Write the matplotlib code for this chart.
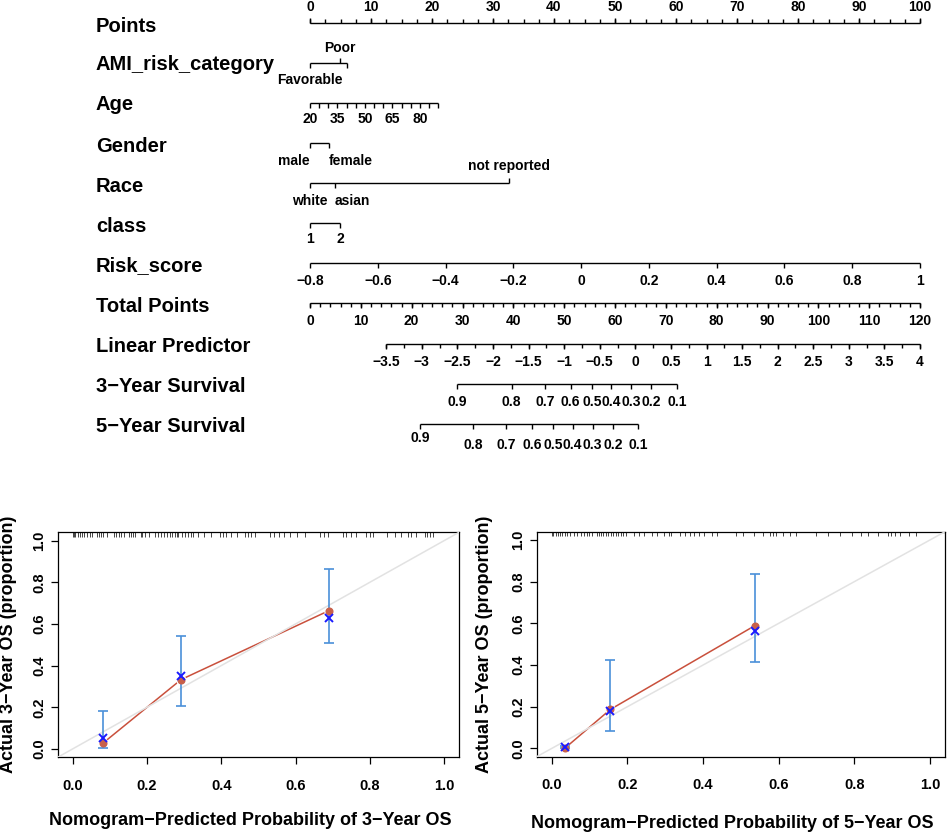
import numpy as np
import matplotlib
matplotlib.use('Agg')
import matplotlib.pyplot as plt

plt.rcParams['font.family'] = ['Liberation Sans', 'DejaVu Sans']
plt.rcParams['font.weight'] = 'bold'

MINUS = '\u2212'

# ---------------- nomogram data ----------------
row_names = ['Points', 'AMI_risk_category', 'Age', 'Gender', 'Race', 'class',
             'Risk_score', 'Total Points', 'Linear Predictor',
             '3' + MINUS + 'Year Survival', '5' + MINUS + 'Year Survival']

points_labels = [0, 10, 20, 30, 40, 50, 60, 70, 80, 90, 100]
points_minor_step = 2.5

ami_levels = ['Favorable', 'Poor', '']
ami_points = [0.0, 4.9, 6.1]
ami_above = [False, True, False]

age_ticks = [20, 25, 30, 35, 40, 45, 50, 55, 60, 65, 70, 75, 80, 85, 90]
age_labels = [20, 35, 50, 65, 80]
age_points_span = (0.0, 21.0)          # points at age 20 and age 90

gender_levels = ['male', 'female']
gender_points = [0.0, 3.1]
gender_ha = ['right', 'left']

race_levels = ['white', 'asian', 'not reported']
race_points = [0.0, 4.1, 32.7]
race_above = [False, False, True]
race_ha = ['center', 'left', 'center']

class_levels = ['1', '2']
class_points = [0.0, 4.9]

risk_ticks = [-0.8, -0.6, -0.4, -0.2, 0.0, 0.2, 0.4, 0.6, 0.8, 1.0]
risk_labels = [MINUS + '0.8', MINUS + '0.6', MINUS + '0.4', MINUS + '0.2',
               '0', '0.2', '0.4', '0.6', '0.8', '1']

total_labels = [0, 10, 20, 30, 40, 50, 60, 70, 80, 90, 100, 110, 120]
total_minor_step = 2

lp_labels = [-3.5, -3, -2.5, -2, -1.5, -1, -0.5, 0, 0.5, 1, 1.5, 2, 2.5, 3, 3.5, 4]
lp_minor_step = 0.25
lp_total_span = (15.0, 120.0)          # total points at LP -3.5 and LP 4

surv_labels = ['0.9', '0.8', '0.7', '0.6', '0.5', '0.4', '0.3', '0.2', '0.1']
surv3_lp = [-2.50, -1.74, -1.27, -0.91, -0.61, -0.34, -0.06, 0.22, 0.59]
surv5_lp = [-3.02, -2.28, -1.82, -1.45, -1.16, -0.88, -0.60, -0.31, 0.04]

# ---------------- calibration data ----------------
cal3_pred = [0.0825, 0.292, 0.690]
cal3_obs = [0.029, 0.333, 0.664]
cal3_corr = [0.053, 0.349, 0.629]
cal3_lo = [0.006, 0.205, 0.509]
cal3_hi = [0.183, 0.544, 0.864]
cal3_rug = [0.002, 0.004, 0.007, 0.014, 0.020, 0.025, 0.032, 0.039, 0.046, 0.052,
            0.066, 0.072, 0.077, 0.083, 0.093, 0.111, 0.118, 0.124, 0.131, 0.138,
            0.151, 0.156, 0.163, 0.169, 0.183, 0.188, 0.196, 0.207, 0.221, 0.230,
            0.237, 0.246, 0.253, 0.261, 0.267, 0.275, 0.282, 0.285, 0.294, 0.302,
            0.311, 0.318, 0.325, 0.337, 0.354, 0.373, 0.396, 0.405, 0.414, 0.427,
            0.443, 0.463, 0.472, 0.481, 0.490, 0.531, 0.542, 0.555, 0.569, 0.584,
            0.605, 0.625, 0.665, 0.677, 0.688, 0.728, 0.737, 0.750, 0.764, 0.791,
            0.800, 0.809, 0.845, 0.867, 0.885, 0.903, 0.912, 0.925, 0.948, 0.955,
            0.961, 0.970]

cal5_pred = [0.034, 0.155, 0.537]
cal5_obs = [0.0, 0.187, 0.589]
cal5_corr = [0.008, 0.180, 0.563]
cal5_lo = [0.0, 0.084, 0.414]
cal5_hi = [0.010, 0.426, 0.835]
cal5_rug = [0.001, 0.004, 0.011, 0.017, 0.022, 0.028, 0.034, 0.041, 0.048, 0.059,
            0.066, 0.077, 0.085, 0.092, 0.099, 0.105, 0.119, 0.125, 0.131, 0.136,
            0.142, 0.149, 0.156, 0.163, 0.169, 0.175, 0.182, 0.189, 0.195, 0.217,
            0.230, 0.244, 0.265, 0.279, 0.296, 0.309, 0.314, 0.340, 0.353, 0.366,
            0.375, 0.389, 0.402, 0.424, 0.437, 0.488, 0.505, 0.535, 0.558, 0.576,
            0.585, 0.593, 0.611, 0.629, 0.646, 0.700, 0.731, 0.762, 0.793, 0.819,
            0.837, 0.863, 0.890, 0.896, 0.907, 0.922, 0.945, 0.964]

# ---------------- figure ----------------
W, H = 948, 835
fig = plt.figure(figsize=(W / 100, H / 100), dpi=100)

# nomogram axes: x in "Points" units, y in pixels from top
NOM_H = 460
axn = fig.add_axes([0, 1 - NOM_H / H, 1, NOM_H / H])
PX_PER_PT = 6.1
X0 = 310
axn.set_xlim(-X0 / PX_PER_PT, (W - X0) / PX_PER_PT)
axn.set_ylim(NOM_H, 0)
axn.axis('off')

row_label_y = [26, 64, 104, 146, 186, 226.5, 266, 306, 346.5, 387, 427]
line_y = [22.7, 63.3, 103.3, 142.7, 182.7, 223.3, 263.3, 303.3, 344.3, 384.3, 424.3]
row_label_x = -(X0 - 96) / PX_PER_PT
TICK = 5.0
TICK_MINOR = 3.5
BELOW = 17.0
ABOVE = 15.5
TFS = 10
LW = 1.0


def tp_to_x(t):
    return np.asarray(t, float) * 100.0 / 120.0


def lp_to_x(v):
    v = np.asarray(v, float)
    lo, hi = lp_labels[0], lp_labels[-1]
    return tp_to_x(lp_total_span[0] + (v - lo) * (lp_total_span[1] - lp_total_span[0]) / (hi - lo))


def risk_to_x(v):
    v = np.asarray(v, float)
    return (v - risk_ticks[0]) * 100.0 / (risk_ticks[-1] - risk_ticks[0])


def age_to_x(a):
    a = np.asarray(a, float)
    return age_points_span[0] + (a - age_ticks[0]) * (age_points_span[1] - age_points_span[0]) / (age_ticks[-1] - age_ticks[0])


def axis_line(y, xs):
    axn.plot([min(xs), max(xs)], [y, y], color='black', lw=LW, solid_capstyle='butt')


def ticks(xs, y, length=TICK, up=False):
    xs = np.atleast_1d(xs)
    y2 = y - length if up else y + length
    axn.vlines(xs, y, y2, color='black', lw=LW)


def labels(xs, texts, y, has=None):
    for i, (x, t) in enumerate(zip(np.atleast_1d(xs), texts)):
        ha = has[i] if has is not None else 'center'
        axn.text(x, y, t, ha=ha, va='center', fontsize=TFS, fontweight='bold')


for name, ly in zip(row_names, row_label_y):
    axn.text(row_label_x, ly, name, ha='left', va='center', fontsize=14.5, fontweight='bold')

# Points
y = line_y[0]
axis_line(y, [0, 100])
ticks(np.arange(0, 100.01, points_minor_step), y, TICK_MINOR, up=True)
ticks(points_labels, y, TICK, up=True)
labels(points_labels, [str(v) for v in points_labels], y - ABOVE)

# AMI risk category
y = line_y[1]
axis_line(y, ami_points)
for p, lev, up in zip(ami_points, ami_levels, ami_above):
    ticks(p, y, TICK, up=up)
    if lev:
        labels([p], [lev], y - ABOVE if up else y + BELOW)

# Age
y = line_y[2]
axis_line(y, age_to_x([age_ticks[0], age_ticks[-1]]))
ticks(age_to_x(age_ticks), y, TICK)
labels(age_to_x(age_labels), [str(a) for a in age_labels], y + BELOW - 1)

# Gender
y = line_y[3]
axis_line(y, gender_points)
ticks(gender_points, y, TICK)
labels(gender_points, gender_levels, y + BELOW + 1, has=gender_ha)

# Race
y = line_y[4]
axis_line(y, race_points)
for p, lev, up, ha in zip(race_points, race_levels, race_above, race_ha):
    ticks(p, y, TICK, up=up)
    labels([p], [lev], y - ABOVE - 1 if up else y + BELOW + 1, has=[ha])

# class
y = line_y[5]
axis_line(y, class_points)
ticks(class_points, y, TICK)
labels(class_points, class_levels, y + BELOW - 1)

# Risk score
y = line_y[6]
axis_line(y, risk_to_x([risk_ticks[0], risk_ticks[-1]]))
ticks(risk_to_x(risk_ticks), y, TICK)
labels(risk_to_x(risk_ticks), risk_labels, y + BELOW + 1)

# Total points
y = line_y[7]
axis_line(y, tp_to_x([total_labels[0], total_labels[-1]]))
ticks(tp_to_x(np.arange(total_labels[0], total_labels[-1] + 0.01, total_minor_step)), y, TICK_MINOR)
ticks(tp_to_x(total_labels), y, TICK)
labels(tp_to_x(total_labels), [str(v) for v in total_labels], y + BELOW + 1)

# Linear predictor
y = line_y[8]
axis_line(y, lp_to_x([lp_labels[0], lp_labels[-1]]))
ticks(lp_to_x(np.arange(lp_labels[0], lp_labels[-1] + 0.001, lp_minor_step)), y, TICK_MINOR)
ticks(lp_to_x(lp_labels), y, TICK)


def fmt_lp(v):
    s = ('%g' % abs(v))
    return (MINUS + s) if v < 0 else s


labels(lp_to_x(lp_labels), [fmt_lp(v) for v in lp_labels], y + BELOW + 1)

# 3-year survival
y = line_y[9]
axis_line(y, lp_to_x(surv3_lp))
ticks(lp_to_x(surv3_lp), y, TICK)
labels(lp_to_x(surv3_lp), surv_labels, y + BELOW + 1)

# 5-year survival
y = line_y[10]
axis_line(y, lp_to_x(surv5_lp))
ticks(lp_to_x(surv5_lp), y, TICK)
x5 = lp_to_x(surv5_lp)
labels(x5[:1], surv_labels[:1], y + BELOW - 3)
labels(x5[1:], surv_labels[1:], y + BELOW + 4)


# ---------------- calibration plots ----------------
def calib(rect, pred, obs, corr, lo, hi, rug, xlabel, ylabel, xlab_y, ylab_x):
    ax = fig.add_axes(rect)
    ax.set_xlim(-0.04, 1.04)
    ax.set_ylim(-0.04, 1.04)
    pred = np.asarray(pred); obs = np.asarray(obs)
    lo = np.asarray(lo); hi = np.asarray(hi)
    ax.plot(pred, obs, color='#c9503c', lw=1.1, zorder=1)
    ax.plot(pred, obs, 'o', ms=7.5, color='white', mec='none', zorder=2)
    ax.axline((0, 0), (1, 1), color='#e2e2e2', lw=1.1, zorder=3)
    ax.errorbar(pred, obs, yerr=[obs - lo, hi - obs], fmt='none', ecolor='#4a90d9',
                elinewidth=1.2, capsize=3.5, capthick=1.2, zorder=4)
    ax.plot(pred, obs, 'o', ms=4.8, color='#c8604a', mec='#c8604a', zorder=5)
    ax.plot(pred, corr, 'x', ms=5.5, mew=1.4, color='#1a1aff', zorder=6)
    ax.vlines(rug, 0.98, 1.0, transform=ax.get_xaxis_transform(), color='#444444',
              lw=0.7, zorder=2)
    tk = [0.0, 0.2, 0.4, 0.6, 0.8, 1.0]
    tl = ['0.0', '0.2', '0.4', '0.6', '0.8', '1.0']
    ax.set_xticks(tk, tl)
    ax.set_yticks(tk, tl)
    ax.tick_params(axis='both', direction='out', length=5, width=0.9, labelsize=10.5,
                   colors='black')
    ax.tick_params(axis='x', pad=10.5)
    ax.tick_params(axis='y', pad=3, labelrotation=90)
    for lab in ax.get_yticklabels():
        lab.set_va('center')
        lab.set_fontweight('bold')
    for lab in ax.get_xticklabels():
        lab.set_fontweight('bold')
    for sp in ax.spines.values():
        sp.set_color('black')
        sp.set_linewidth(0.9)
    ax.set_xlabel(xlabel, fontsize=13, fontweight='bold')
    ax.set_ylabel(ylabel, fontsize=13, fontweight='bold')
    ax.xaxis.set_label_coords(0.48, xlab_y)
    ax.xaxis.label.set_va('center')
    ax.yaxis.set_label_coords(ylab_x, 0.5)
    ax.yaxis.label.set_va('center')
    return ax


calib([57.7 / W, 1 - 757.3 / H, 401.3 / W, 225 / H],
      cal3_pred, cal3_obs, cal3_corr, cal3_lo, cal3_hi, cal3_rug,
      'Nomogram' + MINUS + 'Predicted Probability of 3' + MINUS + 'Year OS',
      'Actual 3' + MINUS + 'Year OS (proportion)', -0.279, -0.123)

calib([536.7 / W, 1 - 756.7 / H, 408.3 / W, 225 / H],
      cal5_pred, cal5_obs, cal5_corr, cal5_lo, cal5_hi, cal5_rug,
      'Nomogram' + MINUS + 'Predicted Probability of 5' + MINUS + 'Year OS',
      'Actual 5' + MINUS + 'Year OS (proportion)', -0.296, -0.129)

fig.savefig('out.png', dpi=100)
